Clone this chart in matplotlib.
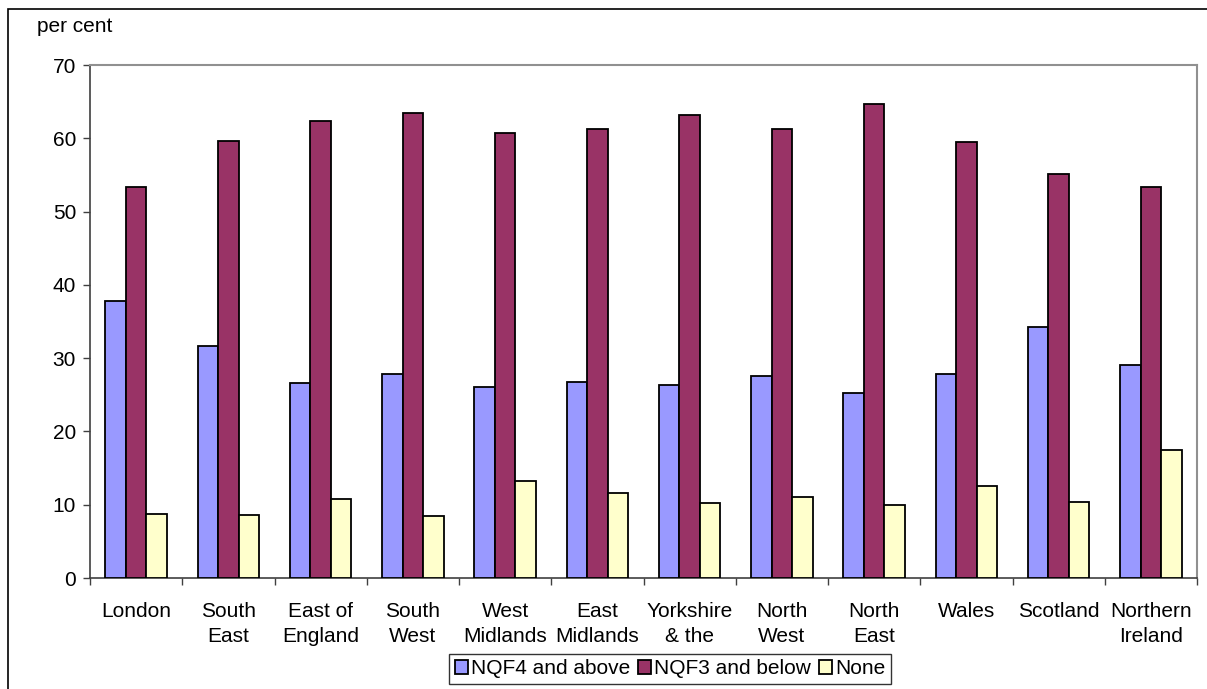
import numpy as np
import matplotlib.pyplot as plt
from matplotlib.patches import Rectangle

plt.rcParams['font.family'] = ['Liberation Sans', 'DejaVu Sans']

regions = ["London", "South\nEast", "East of\nEngland", "South\nWest", "West\nMidlands",
           "East\nMidlands", "Yorkshire\n& the", "North\nWest", "North\nEast", "Wales",
           "Scotland", "Northern\nIreland"]
nqf4_above = [37.8, 31.7, 26.6, 27.9, 26.0, 26.8, 26.3, 27.5, 25.2, 27.8, 34.2, 29.1]
nqf3_below = [53.3, 59.6, 62.4, 63.5, 60.7, 61.3, 63.2, 61.3, 64.7, 59.5, 55.1, 53.3]
no_qual = [8.7, 8.6, 10.8, 8.5, 13.3, 11.6, 10.2, 11.0, 9.9, 12.6, 10.4, 17.4]

series = [("NQF4 and above", nqf4_above, "#9999FF"),
          ("NQF3 and below", nqf3_below, "#993366"),
          ("None", no_qual, "#FFFFCC")]

fig = plt.figure(figsize=(12.07, 6.89), dpi=100)
ax = fig.add_axes([90 / 1207, 1 - 578 / 689, (1197 - 90) / 1207, (578 - 65) / 689])

x = np.arange(len(regions))
w = 1 / 4.5
for i, (name, vals, col) in enumerate(series):
    ax.bar(x + (i - 1) * w, vals, width=w, color=col, edgecolor="black",
           linewidth=1.3, label=name, zorder=3)

ax.set_xlim(-0.5, len(regions) - 0.5)
ax.set_ylim(0, 70)
ax.set_yticks(range(0, 71, 10))
ax.tick_params(axis="y", direction="out", length=5, width=1, labelsize=15, pad=5,
               color="#404040")
ax.set_xticks(x)
ax.set_xticklabels(regions, fontsize=15, linespacing=1.4)
ax.tick_params(axis="x", which="major", length=0, pad=17)
ax.set_xticks(np.arange(-0.5, len(regions), 1), minor=True)
ax.tick_params(axis="x", which="minor", direction="out", length=5, width=1, color="#404040")

for s in ["left", "bottom"]:
    ax.spines[s].set_color("#404040")
    ax.spines[s].set_linewidth(1.2)
for s in ["top", "right"]:
    ax.spines[s].set_color("#909090")
    ax.spines[s].set_linewidth(1.5)

fig.text(37 / 1207, 1 - 27 / 689, "per cent", fontsize=15, va="center", ha="left")

leg = fig.legend(loc="center", bbox_to_anchor=(670 / 1207, 1 - 669 / 689), ncol=3,
                 fontsize=15, frameon=True, fancybox=False, edgecolor="black",
                 handlelength=0.65, handleheight=0.65, handletextpad=0.15,
                 columnspacing=0.35, borderpad=0.25, borderaxespad=0)
leg.get_frame().set_linewidth(1.0)

# outer chart border
fig.patches.append(Rectangle((8 / 1207, -0.05), 1.1, 1 - 9 / 689 + 0.05,
                             transform=fig.transFigure, fill=False,
                             edgecolor="black", linewidth=1.2))

fig.savefig("out.png", dpi=100)
